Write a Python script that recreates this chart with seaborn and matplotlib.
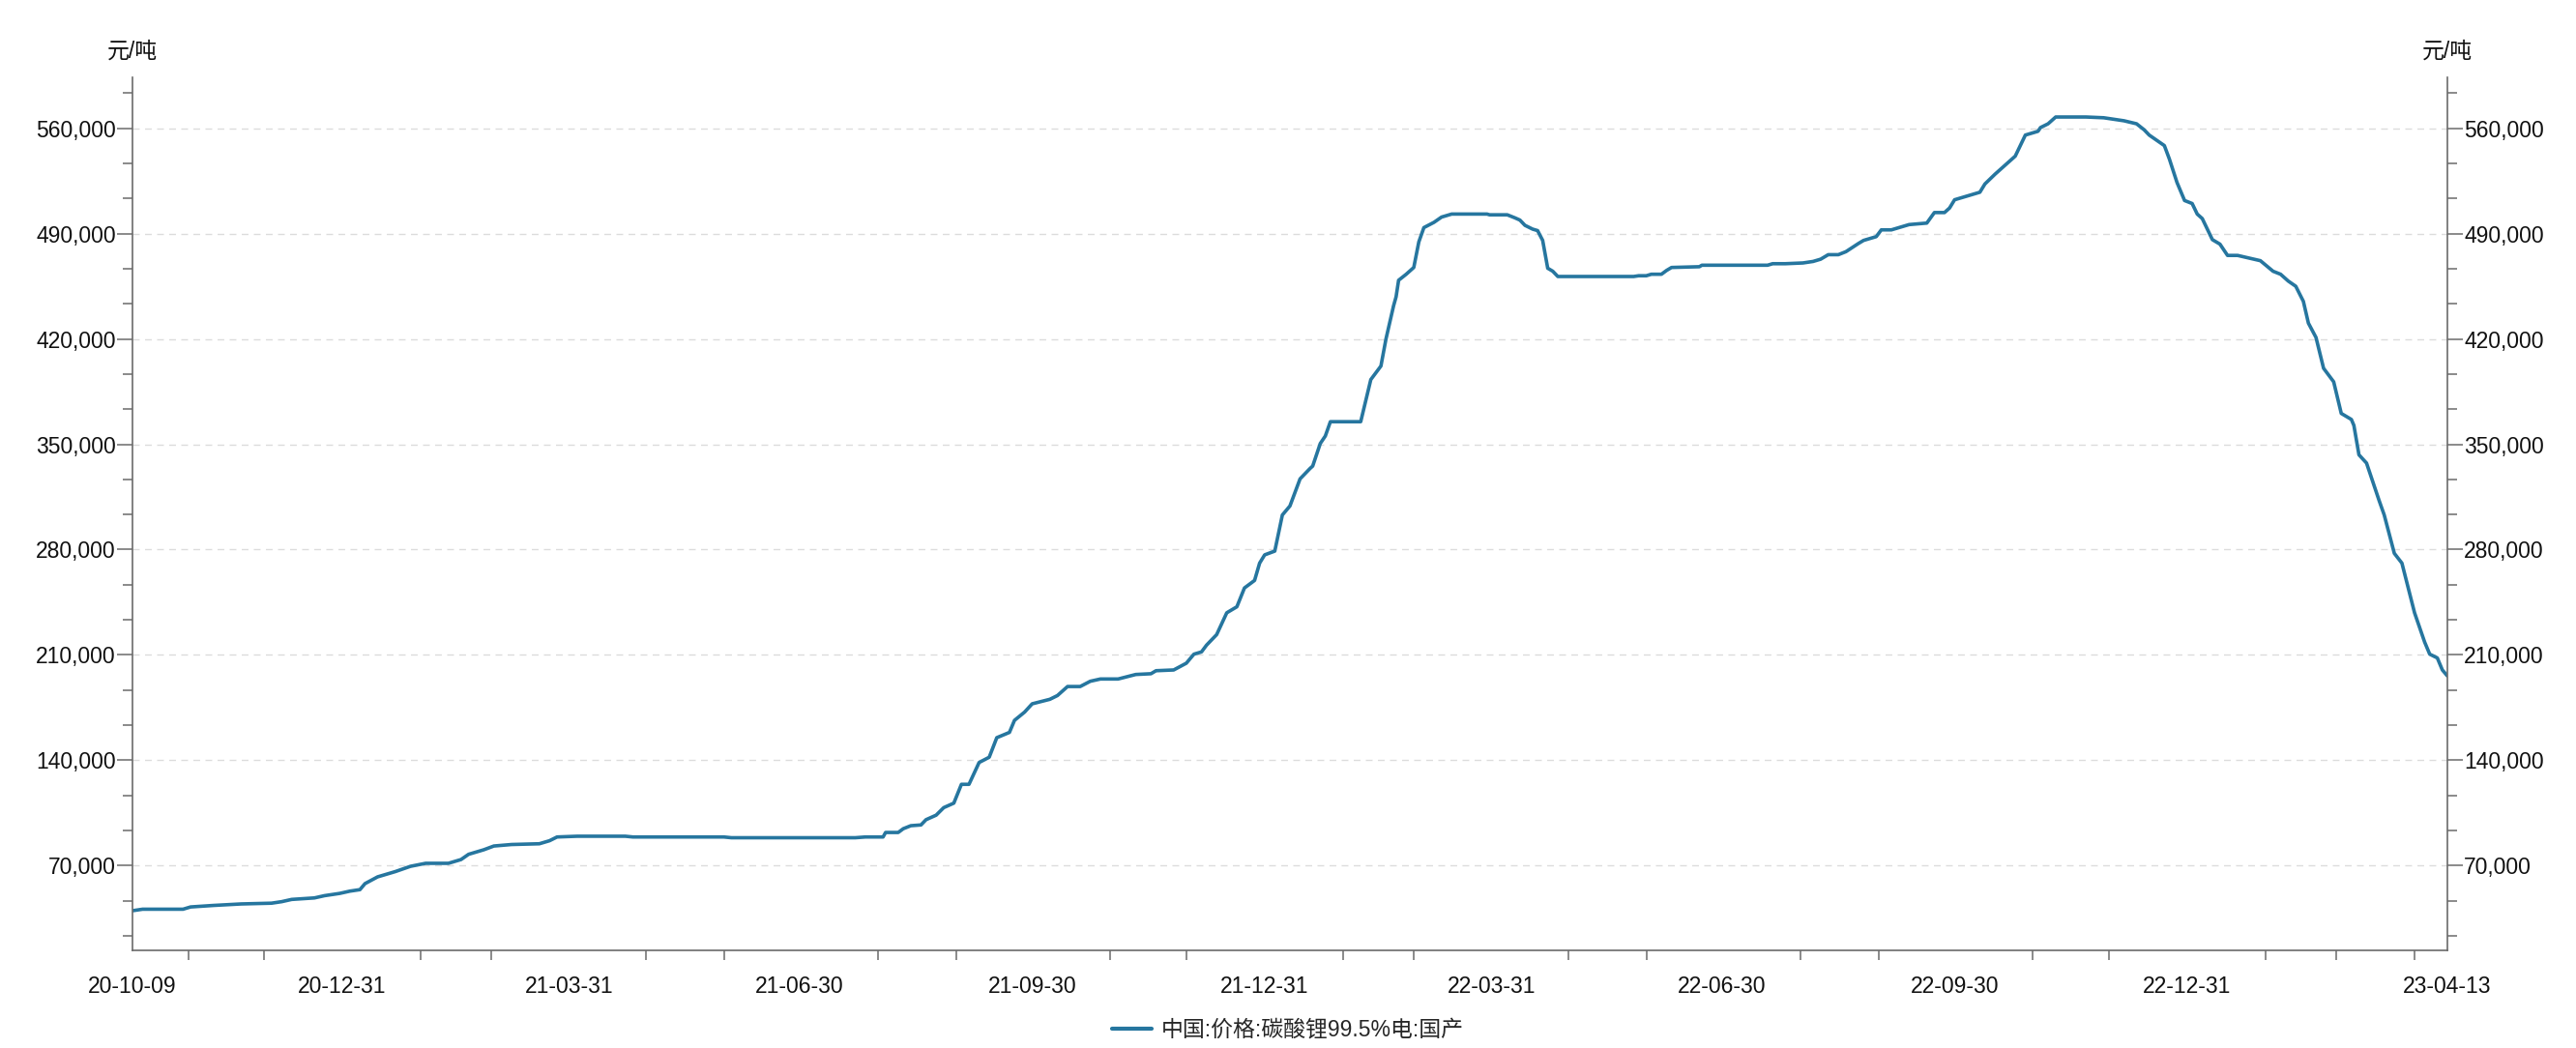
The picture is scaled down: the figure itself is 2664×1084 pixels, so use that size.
import numpy as np
import pandas as pd
import matplotlib
matplotlib.use("Agg")
import matplotlib.pyplot as plt
import matplotlib.dates as mdates
from matplotlib.ticker import MultipleLocator, FuncFormatter, FixedLocator
from matplotlib.lines import Line2D
import seaborn as sns

# ---- data ----
dates = [
    "2020-10-09", "2020-10-13", "2020-10-29", "2020-11-01", "2020-11-10", "2020-11-21",
    "2020-12-03", "2020-12-07", "2020-12-11", "2020-12-20", "2020-12-24", "2020-12-30",
    "2021-01-03", "2021-01-07", "2021-01-09", "2021-01-14", "2021-01-21", "2021-01-27",
    "2021-02-02", "2021-02-11", "2021-02-16", "2021-02-19", "2021-02-25", "2021-03-01",
    "2021-03-08", "2021-03-19", "2021-03-23", "2021-03-26", "2021-04-03", "2021-04-22",
    "2021-04-25", "2021-05-31", "2021-06-03", "2021-07-22", "2021-07-26", "2021-08-02",
    "2021-08-03", "2021-08-08", "2021-08-10", "2021-08-13", "2021-08-17", "2021-08-19",
    "2021-08-23", "2021-08-26", "2021-08-30", "2021-09-02", "2021-09-05", "2021-09-09",
    "2021-09-13", "2021-09-16", "2021-09-21", "2021-09-23", "2021-09-27", "2021-09-30",
    "2021-10-07", "2021-10-10", "2021-10-12", "2021-10-14", "2021-10-19", "2021-10-23",
    "2021-10-27", "2021-11-03", "2021-11-10", "2021-11-16", "2021-11-18", "2021-11-25",
    "2021-11-30", "2021-12-03", "2021-12-06", "2021-12-08", "2021-12-10", "2021-12-12",
    "2021-12-16", "2021-12-20", "2021-12-23", "2021-12-27", "2021-12-29", "2021-12-31",
    "2022-01-04", "2022-01-07", "2022-01-10", "2022-01-14", "2022-01-18", "2022-01-19",
    "2022-01-22", "2022-01-24", "2022-01-26", "2022-02-07", "2022-02-11", "2022-02-15",
    "2022-02-17", "2022-02-20", "2022-02-21", "2022-02-22", "2022-02-25", "2022-02-28",
    "2022-03-02", "2022-03-04", "2022-03-08", "2022-03-11", "2022-03-15", "2022-03-29",
    "2022-03-30", "2022-04-06", "2022-04-09", "2022-04-11", "2022-04-13", "2022-04-16",
    "2022-04-18", "2022-04-20", "2022-04-22", "2022-04-24", "2022-04-26", "2022-05-26",
    "2022-05-28", "2022-05-31", "2022-06-02", "2022-06-06", "2022-06-08", "2022-06-10",
    "2022-06-21", "2022-06-22", "2022-07-18", "2022-07-20", "2022-07-25", "2022-08-01",
    "2022-08-05", "2022-08-08", "2022-08-11", "2022-08-15", "2022-08-18", "2022-08-23",
    "2022-08-25", "2022-08-30", "2022-09-01", "2022-09-05", "2022-09-08", "2022-09-12",
    "2022-09-19", "2022-09-22", "2022-09-26", "2022-09-28", "2022-09-30", "2022-10-10",
    "2022-10-12", "2022-10-16", "2022-10-21", "2022-10-24", "2022-10-28", "2022-11-02",
    "2022-11-03", "2022-11-06", "2022-11-09", "2022-11-21", "2022-11-28", "2022-12-06",
    "2022-12-11", "2022-12-14", "2022-12-16", "2022-12-22", "2022-12-24", "2022-12-27",
    "2022-12-30", "2023-01-02", "2023-01-04", "2023-01-06", "2023-01-10", "2023-01-13",
    "2023-01-16", "2023-01-20", "2023-01-29", "2023-02-03", "2023-02-06", "2023-02-09",
    "2023-02-12", "2023-02-15", "2023-02-17", "2023-02-20", "2023-02-23", "2023-02-27",
    "2023-03-02", "2023-03-06", "2023-03-07", "2023-03-09", "2023-03-12", "2023-03-17",
    "2023-03-19", "2023-03-23", "2023-03-26", "2023-03-31", "2023-04-04", "2023-04-06",
    "2023-04-09", "2023-04-11", "2023-04-13",
]
prices = [
    40000, 41000, 41000, 42500, 43500, 44500,
    45000, 46000, 47500, 48500, 50000, 51500,
    53000, 54000, 58000, 62500, 66000, 69500,
    71500, 71500, 74000, 77500, 80500, 83000,
    84000, 84500, 86500, 89000, 89500, 89500,
    89000, 89000, 88500, 88500, 89000, 89000,
    92000, 92000, 94500, 96500, 97000, 100500,
    103500, 108500, 111500, 124000, 124000, 138500,
    142000, 155000, 158500, 166500, 172000, 177500,
    180500, 183000, 186000, 189000, 189000, 192500,
    194000, 194000, 197000, 197500, 199500, 200000,
    204500, 210500, 212000, 216500, 220000, 223500,
    238000, 242000, 254500, 259500, 271000, 276500,
    279000, 303000, 309000, 327000, 334000, 335500,
    350500, 355500, 365000, 365000, 393000, 402000,
    420000, 442000, 448000, 459000, 463000, 467500,
    484500, 494000, 497500, 501000, 503000, 503000,
    502500, 502500, 500500, 499000, 495500, 493000,
    492000, 485500, 467000, 465000, 461500, 461500,
    462000, 462000, 463000, 463000, 465500, 467500,
    468000, 469000, 469000, 470000, 470000, 470500,
    471500, 473000, 476000, 476000, 478000, 483500,
    485500, 488000, 492500, 492500, 494000, 496000,
    497000, 504000, 504000, 507000, 512500, 517500,
    523000, 529500, 537000, 541500, 555500, 558000,
    560500, 563000, 567500, 567500, 567000, 565000,
    563000, 559000, 555500, 548500, 539500, 524000,
    512000, 510000, 503000, 500000, 486000, 483000,
    475500, 475500, 472000, 465000, 463000, 458500,
    455000, 445000, 430500, 421000, 400500, 391500,
    370500, 366500, 362500, 343000, 337500, 312500,
    303000, 277500, 271000, 238000, 218500, 210500,
    208000, 200000, 196000,
]
series_name = "中国:价格:碳酸锂99.5%电:国产"
unit = "元/吨"
major_dates = ["2020-10-09", "2020-12-31", "2021-03-31", "2021-06-30", "2021-09-30",
               "2021-12-31", "2022-03-31", "2022-06-30", "2022-09-30", "2022-12-31",
               "2023-04-13"]

df = pd.DataFrame({"date": pd.to_datetime(dates), "price": prices})

sns.set_style("white")
plt.rcParams["font.family"] = ["Liberation Sans", "Noto Sans CJK SC"]

line_color = "#26769f"
axis_color = "#6b6b6b"
text_color = "#111111"
fs = 16.5

fig = plt.figure(figsize=(26.64, 10.84), dpi=100)
ax = fig.add_axes([0.05143, 0.09317, 0.89865, 0.83303])

sns.lineplot(data=df, x="date", y="price", ax=ax, color=line_color,
             linewidth=2.6, legend=False)

ax.set_xlim(pd.Timestamp("2020-10-09"), pd.Timestamp("2023-04-13"))
ax.set_ylim(13650, 593860)
ax.set_xlabel("")
ax.set_ylabel("")

# x ticks: labelled quarter ends + monthly minor ticks
ax.xaxis.set_major_locator(FixedLocator(mdates.date2num(pd.to_datetime(major_dates))))
month_ends = pd.date_range("2020-10-31", "2023-03-31", freq="ME")
ax.xaxis.set_minor_locator(FixedLocator(mdates.date2num(month_ends)))
ax.xaxis.set_major_formatter(mdates.DateFormatter("%y-%m-%d"))

# y ticks
ax.yaxis.set_major_locator(MultipleLocator(70000))
ax.yaxis.set_minor_locator(MultipleLocator(70000 / 3))
fmt = FuncFormatter(lambda v, p: f"{v:,.0f}")
ax.yaxis.set_major_formatter(fmt)

ax.grid(False)
ax.yaxis.grid(True, which="major", color="#dcdcdc", linewidth=1.0,
              linestyle=(0, (5, 4)))

for side in ["top", "right"]:
    ax.spines[side].set_visible(False)
for side in ["left", "bottom"]:
    ax.spines[side].set_color(axis_color)
    ax.spines[side].set_linewidth(1.2)

ax.tick_params(axis="both", which="major", direction="out", length=11.5, width=1.1,
               color=axis_color, labelsize=fs, labelcolor=text_color)
ax.tick_params(axis="both", which="minor", direction="out", length=7.5, width=1.1,
               color=axis_color)
ax.tick_params(axis="y", which="major", pad=1)
ax.tick_params(axis="x", which="major", pad=7)
ax.tick_params(axis="x", which="minor", bottom=True)
ax.tick_params(axis="y", which="minor", left=True)

# right axis mirrors the left one
ax2 = ax.twinx()
ax2.set_ylim(ax.get_ylim())
ax2.yaxis.set_major_locator(MultipleLocator(70000))
ax2.yaxis.set_minor_locator(MultipleLocator(70000 / 3))
ax2.yaxis.set_major_formatter(fmt)
ax2.grid(False)
for side in ["top", "left", "bottom"]:
    ax2.spines[side].set_visible(False)
ax2.spines["right"].set_color(axis_color)
ax2.spines["right"].set_linewidth(1.2)
ax2.tick_params(axis="y", which="major", direction="out", length=11.5, width=1.1,
                color=axis_color, labelsize=fs, labelcolor=text_color, pad=1,
                right=True)
ax2.tick_params(axis="y", which="minor", direction="out", length=7.5, width=1.1,
                color=axis_color, right=True)

# unit labels above both axes
fig.text(0.0514, 0.951, unit, ha="center", va="center", fontsize=fs, color=text_color)
fig.text(0.9501, 0.951, unit, ha="center", va="center", fontsize=fs, color=text_color)

handle = Line2D([], [], color=line_color, linewidth=3.0)
fig.legend([handle], [series_name], loc="center", bbox_to_anchor=(0.5, 0.0175),
           frameon=False, fontsize=fs, handlelength=1.8, handletextpad=0.45)

fig.savefig("out.png", dpi=100)
plt.close(fig)
